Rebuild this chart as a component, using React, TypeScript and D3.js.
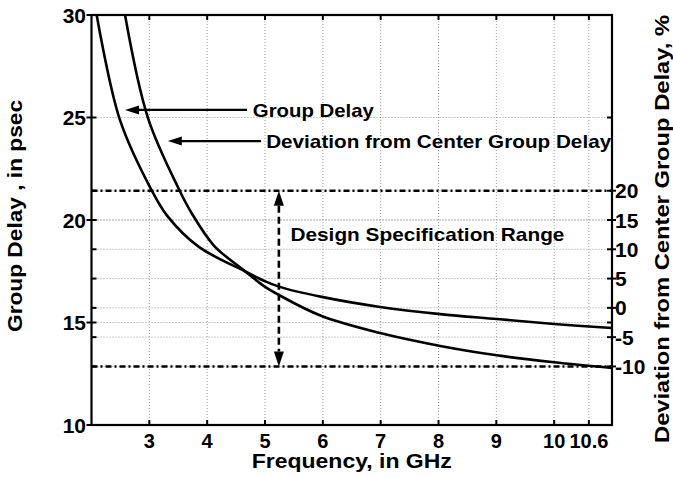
import React from 'react';
import * as d3 from 'd3';

// ---- data ----
const freqTicks = [3, 4, 5, 6, 7, 8, 9, 10, 10.6];
const freqTickLabels = ['3', '4', '5', '6', '7', '8', '9', '10', '10.6'];
const leftTicks = [10, 15, 20, 25, 30];
const rightTicks = [-10, -5, 0, 5, 10, 15, 20];
const specLimits = [20, -10];

// Group delay curve (psec, left axis)
const delayFreq = [2.09, 2.49, 3.04, 3.31, 3.85, 4.65, 4.97, 5.24, 5.98, 6.99, 8.03, 9.01, 10.0, 11.0];
const delayPsec = [30, 24.9, 21.45, 20.2, 18.7, 17.5, 17.05, 16.75, 16.25, 15.76, 15.41, 15.17, 14.93, 14.73];

// Deviation from center group delay (%, right axis)
const devFreq = [2.58, 2.98, 3.51, 3.73, 4.12, 4.65, 4.97, 5.24, 5.98, 6.99, 8.03, 9.01, 10.0, 11.0];
const devPct = [50.0, 32.3, 20.3, 16.2, 10.6, 6.3, 3.8, 2.2, -1.4, -4.3, -6.5, -8.1, -9.3, -10.27];

const W = 673;
const H = 477;
const PL = 91.5, PR = 612, PT = 15, PB = 425;
const FONT = '"Liberation Sans", Arial, Helvetica, sans-serif';

const x = d3.scaleLinear().domain([2, 11]).range([PL, PR]);
const yL = d3.scaleLinear().domain([10, 30]).range([PB, PT]);
const yR = d3.scaleLinear().domain([-20, 50]).range([PB, PT]);

function leftArrow(tipX: number, tailX: number, y: number) {
  const hl = 14, hw = 4.5;
  return (
    <g>
      <line x1={tipX + hl - 1} x2={tailX} y1={y} y2={y} stroke="#000" strokeWidth={2.2} />
      <path d={`M${tipX},${y} L${tipX + hl},${y - hw} L${tipX + hl},${y + hw} Z`} fill="#000" />
    </g>
  );
}

export default function App() {
  const delayLine = d3
    .line<number>()
    .x((_, i) => x(delayFreq[i]))
    .y((d) => yL(d))
    .curve(d3.curveCatmullRom.alpha(0.5));
  const devLine = d3
    .line<number>()
    .x((_, i) => x(devFreq[i]))
    .y((d) => yR(d))
    .curve(d3.curveCatmullRom.alpha(0.5));

  const gridStyle = { stroke: '#9a9a9a', strokeWidth: 1, strokeDasharray: '1 2' };
  const tickLen = 5;

  const arrowX = x(5.24);
  const yTop = yR(specLimits[0]);
  const yBot = yR(specLimits[1]);
  const vhl = 15, vhw = 5;

  return (
    <svg width={W} height={H} style={{ position: 'absolute', left: 0, top: 0, background: '#fff' }} fontFamily={FONT} fontWeight="bold">
      <defs>
        <clipPath id="plotclip">
          <rect x={PL} y={PT} width={PR - PL} height={PB - PT} />
        </clipPath>
      </defs>
      <rect x={0} y={0} width={W} height={H} fill="#fff" />

      {/* grid */}
      {freqTicks.map((f) => (
        <line key={'gx' + f} x1={x(f)} x2={x(f)} y1={PT} y2={PB} {...gridStyle} />
      ))}
      {leftTicks.filter((t) => t > 10 && t < 30).map((t) => (
        <line key={'gl' + t} x1={PL} x2={PR} y1={yL(t)} y2={yL(t)} {...gridStyle} />
      ))}
      {rightTicks.map((t) => (
        <line key={'gr' + t} x1={PL} x2={PR} y1={yR(t)} y2={yR(t)} {...gridStyle} />
      ))}

      {/* spec lines */}
      {specLimits.map((s) => (
        <line key={'sp' + s} x1={PL} x2={PR} y1={yR(s)} y2={yR(s)} stroke="#000" strokeWidth={2.4} strokeDasharray="6 3 2 3" />
      ))}

      {/* curves */}
      <g clipPath="url(#plotclip)">
        <path d={delayLine(delayPsec) || ''} fill="none" stroke="#000" strokeWidth={2.6} />
        <path d={devLine(devPct) || ''} fill="none" stroke="#000" strokeWidth={2.6} />
      </g>

      {/* vertical double arrow */}
      <line x1={arrowX} x2={arrowX} y1={yTop + vhl} y2={yBot - vhl} stroke="#000" strokeWidth={2.6} strokeDasharray="7 4" />
      <path d={`M${arrowX},${yTop} L${arrowX - vhw},${yTop + vhl} L${arrowX + vhw},${yTop + vhl} Z`} fill="#000" />
      <path d={`M${arrowX},${yBot} L${arrowX - vhw},${yBot - vhl} L${arrowX + vhw},${yBot - vhl} Z`} fill="#000" />

      {/* annotations */}
      {leftArrow(x(2.58), x(4.69), yL(25.37))}
      {leftArrow(x(3.32), x(4.93), yL(23.85))}
      <text x={x(4.79)} y={yL(25.37) + 7.5} fontSize={19} textLength={121} lengthAdjust="spacingAndGlyphs">Group Delay</text>
      <text x={x(5.02)} y={yL(23.85) + 7} fontSize={19} textLength={345} lengthAdjust="spacingAndGlyphs">Deviation from Center Group Delay</text>
      <text x={x(5.44)} y={yR(11.4)} fontSize={19} textLength={274} lengthAdjust="spacingAndGlyphs">Design Specification Range</text>

      {/* axis box */}
      <rect x={PL} y={PT} width={PR - PL} height={PB - PT} fill="none" stroke="#000" strokeWidth={2.2} />

      {/* x ticks */}
      {freqTicks.map((f, i) => (
        <g key={'xt' + f}>
          <line x1={x(f)} x2={x(f)} y1={PB} y2={PB - tickLen} stroke="#000" strokeWidth={2} />
          <line x1={x(f)} x2={x(f)} y1={PT} y2={PT + tickLen} stroke="#000" strokeWidth={2} />
          <text x={x(f)} y={448} fontSize={20} textAnchor="middle">{freqTickLabels[i]}</text>
        </g>
      ))}

      {/* left ticks */}
      {leftTicks.map((t) => (
        <g key={'lt' + t}>
          <line x1={PL - 5} x2={PL + tickLen} y1={yL(t)} y2={yL(t)} stroke="#000" strokeWidth={2} />
          <line x1={PR} x2={PR - tickLen} y1={yL(t)} y2={yL(t)} stroke="#000" strokeWidth={2} />
          <text x={86} y={yL(t)} dy="0.36em" fontSize={21} textAnchor="end">{t}</text>
        </g>
      ))}

      {/* right ticks */}
      {rightTicks.map((t) => (
        <g key={'rt' + t}>
          <line x1={PR - tickLen} x2={PR + 4} y1={yR(t)} y2={yR(t)} stroke="#000" strokeWidth={2} />
          <line x1={PL} x2={PL + tickLen} y1={yR(t)} y2={yR(t)} stroke="#000" strokeWidth={2} />
          <text x={615} y={yR(t)} dy="0.36em" fontSize={21} textAnchor="start">{t}</text>
        </g>
      ))}

      {/* axis titles */}
      <text x={(PL + PR) / 2} y={468} fontSize={20} textAnchor="middle" textLength={200} lengthAdjust="spacingAndGlyphs">Frequency, in GHz</text>
      <text transform={`translate(22,216) rotate(-90)`} fontSize={20} textAnchor="middle" textLength={232} lengthAdjust="spacingAndGlyphs">Group Delay , in psec</text>
      <text transform={`translate(669,229) rotate(-90)`} fontSize={20} textAnchor="middle" textLength={428} lengthAdjust="spacingAndGlyphs">Deviation from Center Group Delay, %</text>
    </svg>
  );
}
